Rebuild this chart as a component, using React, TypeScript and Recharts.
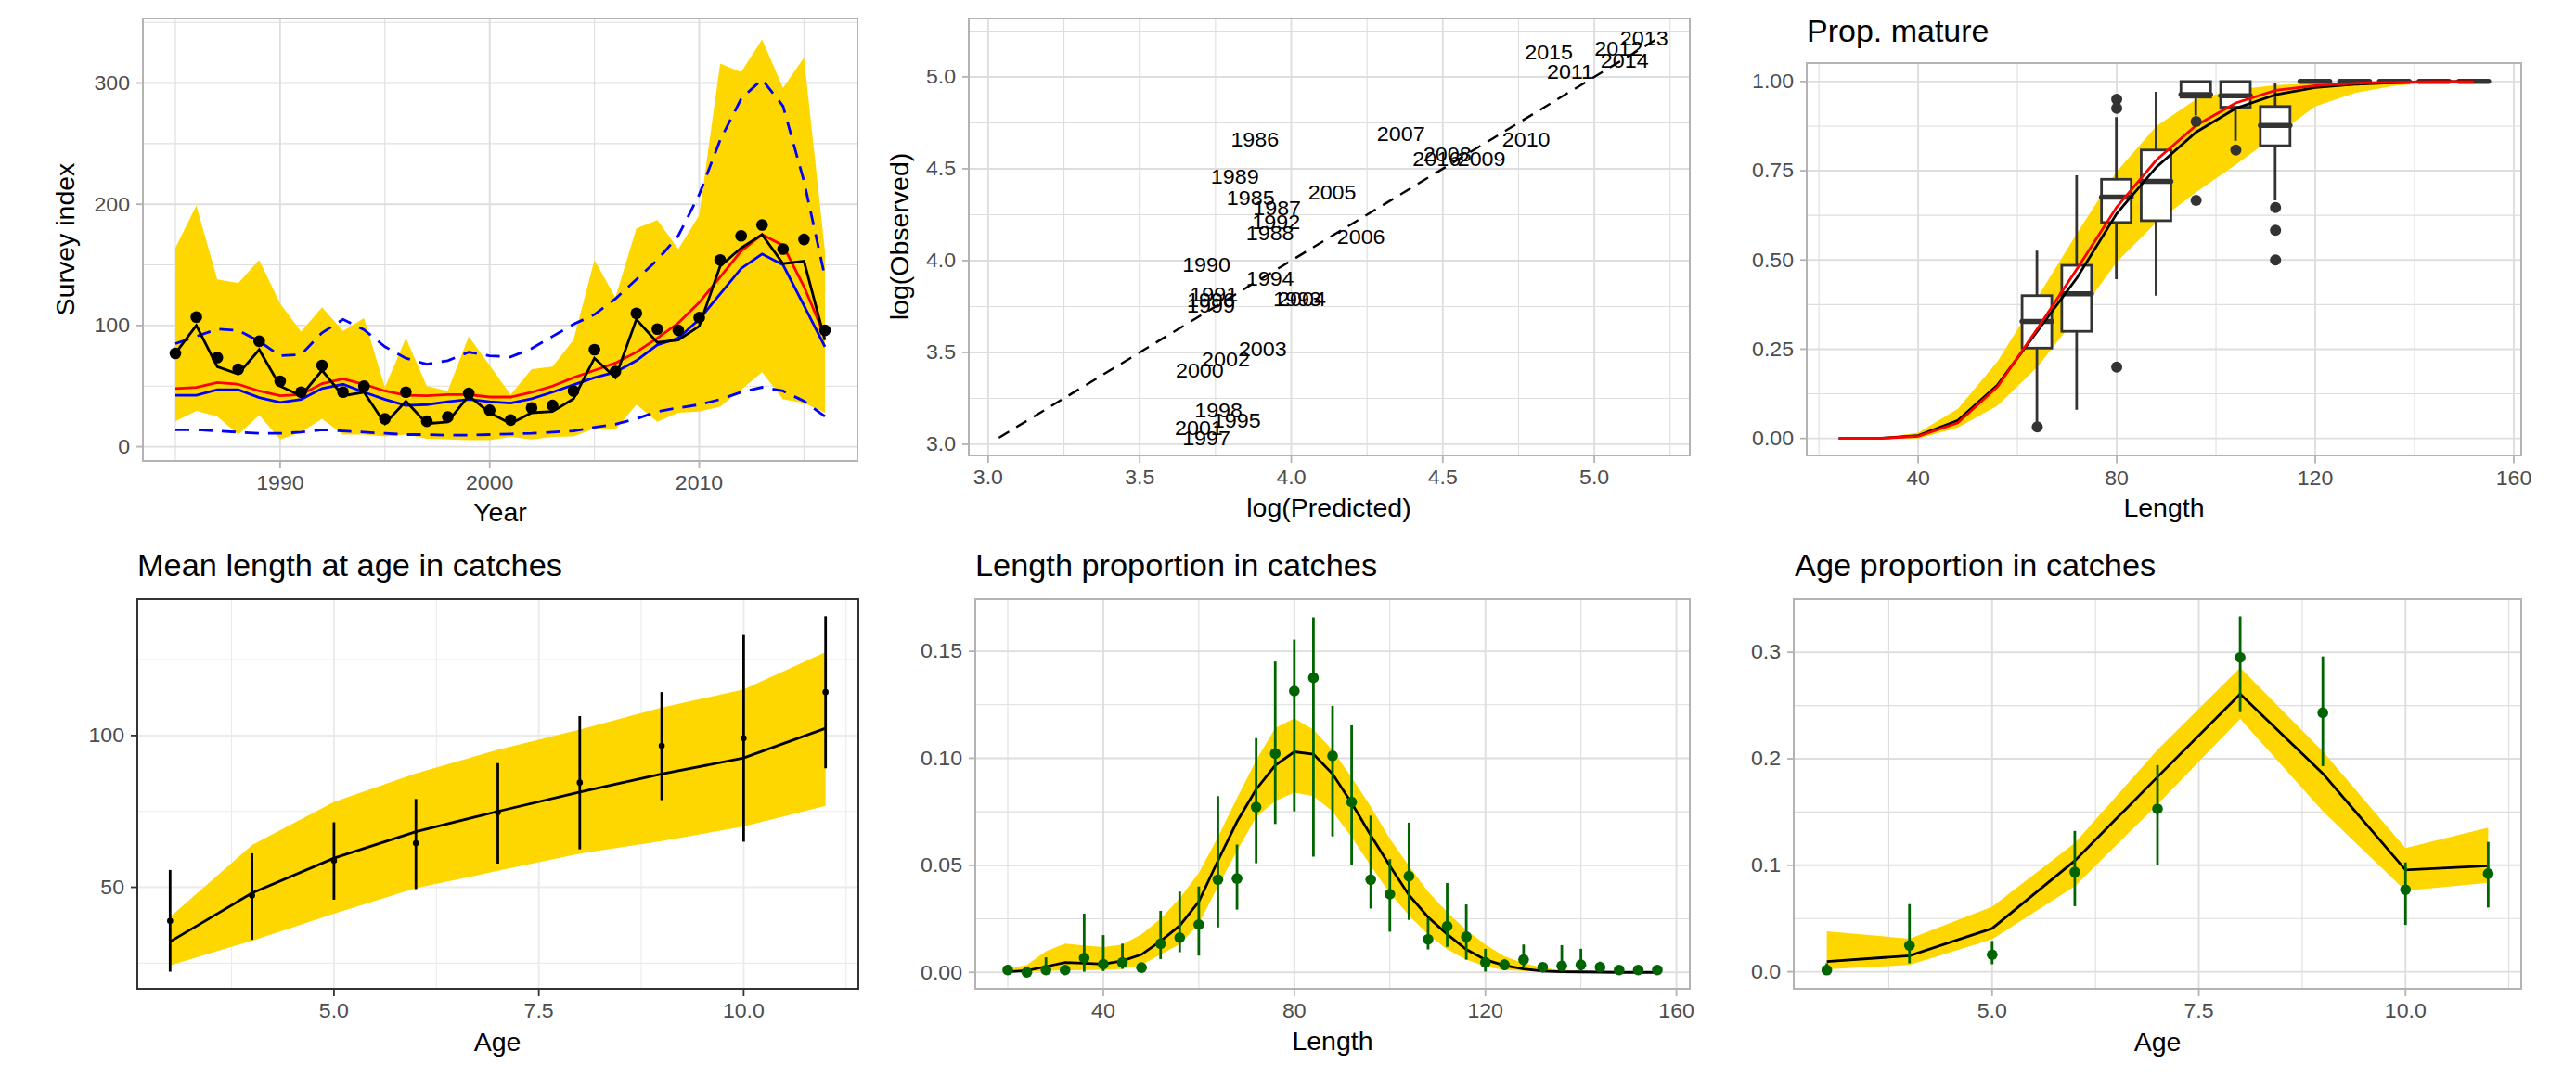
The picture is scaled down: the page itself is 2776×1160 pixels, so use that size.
import React from 'react';
import {
  ComposedChart,
  Line,
  Area,
  Bar,
  Scatter,
  XAxis,
  YAxis,
  CartesianGrid,
  ErrorBar,
  ReferenceLine,
} from 'recharts';

const FONT = '"Liberation Sans", Arial, Helvetica, sans-serif';
const SX = 1.05;
const GOLD = '#FFD700';
const DKGREEN = '#006400';

// survey index
const surveyYears = [1985, 1986, 1987, 1988, 1989, 1990, 1991, 1992, 1993, 1994, 1995, 1996, 1997, 1998, 1999, 2000, 2001, 2002, 2003, 2004, 2005, 2006, 2007, 2008, 2009, 2010, 2011, 2012, 2013, 2014, 2015, 2016];
const surveyObs = [77, 107, 73.5, 64, 87, 54, 45, 67, 45, 50, 23, 45, 21, 24.5, 44, 30, 22, 32, 34, 46, 80, 62, 110, 97, 96, 106.5, 154, 174, 183, 163, 171, 96];
const surveyFit = [77, 100, 66, 60, 80, 50, 42, 63, 42, 45, 19, 37.5, 19, 20.5, 42, 28, 19, 28, 29, 39.5, 73, 57, 105, 86, 88, 99.5, 149, 164, 175, 151, 153, 88];
const surveyRed = [48, 49, 53, 51.5, 46, 42, 43, 52, 56, 51.5, 46, 42.5, 42, 43, 43, 41, 41, 45, 50, 57, 63, 69, 78, 89.5, 102, 119, 140, 161.5, 175, 166, 132, 91];
const surveyBlue = [42.5, 42.5, 47, 47, 40.5, 36.5, 39, 48, 51.5, 45, 39, 34, 34.7, 37, 39, 37, 36, 39.5, 45, 51, 57, 61.5, 71, 84, 89.5, 105, 126, 147, 159, 150, 116.5, 82.5];
const surveyHi = [85, 91, 97, 96, 87, 75, 76, 94, 105, 96.5, 82.5, 73, 68, 71, 78, 75, 74, 81, 91, 101, 109, 122, 138, 154, 174, 208, 253, 287, 303, 281, 219, 140];
const surveyLo = [14, 14, 13, 12, 11, 11, 12, 14, 13, 12, 11, 10, 10, 9.5, 9.5, 10, 10.5, 11, 12, 13, 16, 18.5, 23, 29, 32, 34.7, 39, 45, 49, 46, 37.5, 25];
const surveyBandHi = [164, 199, 138, 135, 154, 118, 95, 115, 95.5, 106, 49, 89.5, 50, 46, 91, 67, 43, 64, 66, 88, 154, 123, 180, 187, 163, 191, 316, 309, 336, 296, 321, 161.5];
const surveyBandLo = [21, 29.6, 25, 10, 26, 6, 12, 23, 10, 10, 8.5, 10, 6.5, 6, 5.5, 5.5, 8, 6, 8, 8.5, 15, 14, 34.7, 20.5, 28, 29, 33, 47, 61.5, 39, 36, 28];

// log observed vs log predicted
const fitLabels = ['1985', '1986', '1987', '1988', '1989', '1990', '1991', '1992', '1993', '1994', '1995', '1996', '1997', '1998', '1999', '2000', '2001', '2002', '2003', '2004', '2005', '2006', '2007', '2008', '2009', '2010', '2011', '2012', '2013', '2014', '2015', '2016'];
const fitPred = [3.866, 3.88, 3.953, 3.93, 3.814, 3.72, 3.745, 3.95, 4.02, 3.93, 3.82, 3.735, 3.72, 3.76, 3.735, 3.698, 3.695, 3.784, 3.906, 4.035, 4.135, 4.23, 4.362, 4.515, 4.628, 4.775, 4.92, 5.08, 5.164, 5.1, 4.85, 4.48];
const fitObs = [4.34, 4.66, 4.285, 4.15, 4.458, 3.98, 3.816, 4.21, 3.79, 3.905, 3.13, 3.785, 3.035, 3.185, 3.755, 3.4, 3.09, 3.465, 3.52, 3.79, 4.37, 4.13, 4.69, 4.58, 4.553, 4.66, 5.028, 5.156, 5.21, 5.09, 5.134, 4.553];

// maturity
const matLen = [24, 32, 40, 48, 56, 64, 72, 80, 88, 96, 104, 112, 120, 128, 136, 144, 152];
const matFit = [0, 0, 0.008, 0.05, 0.15, 0.3, 0.45, 0.63, 0.76, 0.858, 0.925, 0.963, 0.983, 0.992, 0.997, 1, 1];
const matRed = [0, 0, 0.006, 0.044, 0.145, 0.307, 0.475, 0.648, 0.78, 0.877, 0.94, 0.975, 0.988, 0.995, 0.998, 1, 1];
const matBandHi = [0, 0.001, 0.016, 0.083, 0.216, 0.394, 0.575, 0.748, 0.875, 0.95, 0.977, 0.99, 0.995, 0.998, 1, 1, 1];
const matBandLo = [0, 0, 0, 0.03, 0.092, 0.2, 0.34, 0.494, 0.605, 0.69, 0.767, 0.849, 0.93, 0.968, 0.988, 0.997, 1];
const boxLen = [64, 72, 80, 88, 96, 104, 112, 120, 128, 136, 144, 152];
const boxLo = [0.045, 0.08, 0.446, 0.4, 0.905, 0.834, 0.667, 1, 1, 1, 1, 1];
const boxQ1 = [0.253, 0.3, 0.605, 0.61, 0.956, 0.928, 0.82, 1, 1, 1, 1, 1];
const boxMed = [0.328, 0.405, 0.676, 0.72, 0.963, 0.96, 0.877, 1, 1, 1, 1, 1];
const boxQ3 = [0.4, 0.485, 0.726, 0.808, 1, 1, 0.93, 1, 1, 1, 1, 1];
const boxHi = [0.526, 0.737, 0.9, 0.971, 1, 1, 0.997, 1, 1, 1, 1, 1];
const outlierLen = [64, 80, 80, 80, 96, 96, 104, 112, 112, 112];
const outlierVal = [0.032, 0.95, 0.925, 0.2, 0.888, 0.667, 0.808, 0.647, 0.583, 0.5];

// mean length at age
const ages = [3, 4, 5, 6, 7, 8, 9, 10, 11];
const mlObs = [38.9, 47.3, 58.8, 64.5, 74.7, 84.5, 96.6, 99.1, 114.3];
const mlFit = [32.1, 48.1, 59.6, 68.3, 75.0, 81.4, 87.3, 92.6, 102.4];
const mlBandHi = [40.2, 63.9, 78.1, 87.5, 95.3, 102, 109.2, 115.2, 127.5];
const mlBandLo = [24.3, 32.4, 41.3, 49.7, 55.4, 61.1, 65.2, 70.0, 76.8];
const mlErrHi = [55.7, 61.2, 71.4, 79.1, 90.9, 106.4, 114.3, 133.1, 139.3];
const mlErrLo = [22.2, 32.7, 45.9, 49.4, 57.8, 62.5, 78.7, 65.0, 89.2];

// length proportions
const lpLen = [20, 24, 28, 32, 36, 40, 44, 48, 52, 56, 60, 64, 68, 72, 76, 80, 84, 88, 92, 96, 100, 104, 108, 112, 116, 120, 124, 128, 132, 136, 140, 144, 148, 152, 156];
const lpObs = [0.0011, 0, 0.0011, 0.0011, 0.0067, 0.0038, 0.0046, 0.0022, 0.0134, 0.0162, 0.0223, 0.0433, 0.0438, 0.0772, 0.1022, 0.1314, 0.1376, 0.1011, 0.0796, 0.0433, 0.0365, 0.0449, 0.0154, 0.0215, 0.0166, 0.0046, 0.0035, 0.0059, 0.0024, 0.003, 0.0035, 0.0024, 0.0011, 0.0011, 0.0011];
const lpErrHi = [0.0035, 0.001, 0.007, 0.003, 0.0274, 0.0174, 0.0134, 0.004, 0.0287, 0.0377, 0.0401, 0.0823, 0.0597, 0.1094, 0.1452, 0.1554, 0.1659, 0.1245, 0.1154, 0.0732, 0.0529, 0.0699, 0.0253, 0.0417, 0.0317, 0.011, 0.006, 0.013, 0.0035, 0.0127, 0.011, 0.005, 0.002, 0.002, 0.002];
const lpErrLo = [0, 0, 0, 0, 0.0003, 0.0006, 0.0016, 0.001, 0.0062, 0.0094, 0.0078, 0.021, 0.0293, 0.051, 0.0693, 0.0752, 0.0541, 0.0635, 0.0502, 0.0298, 0.019, 0.0245, 0.0107, 0.0119, 0.0059, 0.0003, 0.001, 0.0027, 0.001, 0.001, 0.001, 0.0006, 0.0005, 0.0005, 0.0005];
const lpFit = [0.0003, 0.0008, 0.0027, 0.0046, 0.0043, 0.0038, 0.0054, 0.0083, 0.0146, 0.0218, 0.033, 0.0521, 0.0704, 0.0855, 0.0967, 0.103, 0.1019, 0.0927, 0.0791, 0.064, 0.0497, 0.0361, 0.0258, 0.0178, 0.0107, 0.0059, 0.0032, 0.0016, 0.0006, 0.0003, 0.0002, 0.0001, 0, 0, 0];
const lpBandHi = [0.0016, 0.0035, 0.0099, 0.0134, 0.0126, 0.0118, 0.013, 0.0178, 0.025, 0.0346, 0.0465, 0.0632, 0.0815, 0.099, 0.1142, 0.1186, 0.1134, 0.1038, 0.0911, 0.0775, 0.0624, 0.0497, 0.0377, 0.0282, 0.0197, 0.013, 0.0075, 0.0043, 0.0022, 0.001, 0.0005, 0.0002, 0.0001, 0, 0];
const lpBandLo = [0, 0.0003, 0.0006, 0.001, 0.0011, 0.0011, 0.0016, 0.0035, 0.0083, 0.0131, 0.0226, 0.0401, 0.0568, 0.0725, 0.08, 0.0839, 0.0823, 0.0752, 0.0632, 0.0497, 0.0369, 0.0266, 0.0178, 0.0107, 0.0059, 0.0027, 0.0011, 0.0006, 0.0003, 0.0001, 0, 0, 0, 0, 0];

// age proportions
const apObs = [0.0016, 0.0247, 0.016, 0.0937, 0.153, 0.2952, 0.2432, 0.077, 0.0921];
const apErrHi = [0.008, 0.0635, 0.0289, 0.1322, 0.194, 0.3337, 0.2961, 0.1027, 0.1219];
const apErrLo = [0, 0.008, 0.0071, 0.0616, 0.1, 0.2438, 0.1931, 0.044, 0.0603];
const apFit = [0.0096, 0.0151, 0.0407, 0.1043, 0.1829, 0.2608, 0.1861, 0.0956, 0.0995];
const apBandHi = [0.0379, 0.0311, 0.061, 0.121, 0.2085, 0.2855, 0.2069, 0.1161, 0.1354];
const apBandLo = [0.0022, 0.0064, 0.0305, 0.0802, 0.1572, 0.2374, 0.1508, 0.076, 0.0834];

const surveyData = surveyYears.map((year, i) => ({
  year,
  obs: surveyObs[i],
  fit: surveyFit[i],
  red: surveyRed[i],
  blue: surveyBlue[i],
  hi: surveyHi[i],
  lo: surveyLo[i],
  band: [surveyBandLo[i], surveyBandHi[i]],
}));

const fitData = fitLabels.map((label, i) => ({ label, pred: fitPred[i], obs: fitObs[i] }));
const fitMin = Math.min(...fitObs, ...fitPred);
const fitMax = Math.max(...fitObs, ...fitPred);

const matData = matLen.map((len, i) => {
  const j = boxLen.indexOf(len);
  return {
    len,
    fit: matFit[i],
    red: matRed[i],
    band: [matBandLo[i], matBandHi[i]],
    box: j >= 0 ? { lo: boxLo[j], q1: boxQ1[j], med: boxMed[j], q3: boxQ3[j], hi: boxHi[j] } : null,
  };
});
const outliers = outlierLen.map((len, i) => ({ len, v: outlierVal[i] }));

const mlData = ages.map((age, i) => ({
  age,
  obs: mlObs[i],
  fit: mlFit[i],
  band: [mlBandLo[i], mlBandHi[i]],
  err: [mlObs[i] - mlErrLo[i], mlErrHi[i] - mlObs[i]],
}));

const lpData = lpLen.map((len, i) => ({
  len,
  obs: lpObs[i],
  fit: lpFit[i],
  band: [lpBandLo[i], lpBandHi[i]],
  err: [lpObs[i] - lpErrLo[i], lpErrHi[i] - lpObs[i]],
}));

const apData = ages.map((age, i) => ({
  age,
  obs: apObs[i],
  fit: apFit[i],
  band: [apBandLo[i], apBandHi[i]],
  err: [apObs[i] - apErrLo[i], apErrHi[i] - apObs[i]],
}));

const f0 = (v: number) => String(v);
const f1 = (v: number) => v.toFixed(1);
const f2 = (v: number) => v.toFixed(2);

function XTick(p: any) {
  return (
    <g transform={`translate(${p.x},${p.y})`}>
      <text x={0} y={16} transform={`scale(${SX},1)`} textAnchor="middle" dominantBaseline="central" fontSize={22} fill="#4D4D4D" fontFamily={FONT}>
        {p.fmt(p.payload.value)}
      </text>
    </g>
  );
}

function YTick(p: any) {
  return (
    <g transform={`translate(${p.x},${p.y})`}>
      <text x={0} y={0} transform={`scale(${SX},1)`} textAnchor="end" dominantBaseline="central" fontSize={22} fill="#4D4D4D" fontFamily={FONT}>
        {p.fmt(p.payload.value)}
      </text>
    </g>
  );
}

const dotShape = (r: number, fill: string) => (p: any) => <circle cx={p.cx} cy={p.cy} r={r} fill={fill} />;

function BoxShape(p: any) {
  const b = p.payload && p.payload.box;
  if (!b) return <g />;
  const { x, y, width, height } = p;
  const pix = (v: number) => (b.hi === b.lo ? y : y + (height * (b.hi - v)) / (b.hi - b.lo));
  const cx = x + width / 2;
  const top = pix(b.q3);
  const bot = pix(b.q1);
  return (
    <g>
      <line x1={cx} x2={cx} y1={pix(b.hi)} y2={top} stroke="#333333" strokeWidth={2.8} />
      <line x1={cx} x2={cx} y1={bot} y2={pix(b.lo)} stroke="#333333" strokeWidth={2.8} />
      <rect x={x} y={top} width={width} height={Math.max(bot - top, 0)} fill="#FFFFFF" stroke="#333333" strokeWidth={2.8} />
      <line x1={x} x2={x + width} y1={pix(b.med)} y2={pix(b.med)} stroke="#333333" strokeWidth={5.5} strokeLinecap="round" />
    </g>
  );
}

function LabelShape(p: any) {
  return (
    <g transform={`translate(${p.cx},${p.cy})`}>
      <text x={0} y={0} transform="scale(1.06,1)" textAnchor="middle" dominantBaseline="central" fontSize={22} fill="#000000" fontFamily={FONT}>
        {p.payload.label}
      </text>
    </g>
  );
}

const PL = 110;
const PT = 12;
const PR = 30;
const PB = 50;

interface PanelProps {
  rect: number[];
  data: any[];
  xKey: string;
  xDomain: number[];
  yDomain: number[];
  xTicks: number[];
  yTicks: number[];
  xMinor: number[];
  yMinor: number[];
  xFmt: (v: number) => string;
  yFmt: (v: number) => string;
  bw?: boolean;
  children: React.ReactNode;
}

function Panel({ rect, data, xKey, xDomain, yDomain, xTicks, yTicks, xMinor, yMinor, xFmt, yFmt, bw, children }: PanelProps) {
  const [x0, y0, x1, y1] = rect;
  const w = x1 - x0 + PL + PR;
  const h = y1 - y0 + PT + PB;
  const grid = bw ? '#EBEBEB' : '#DEDEDE';
  const tickCol = bw ? '#333333' : '#B3B3B3';
  const bWidth = bw ? 2.2 : 2.6;
  return (
    <>
      <div style={{ position: 'absolute', left: x0 - PL, top: y0 - PT }}>
        <ComposedChart width={w} height={h} data={data} margin={{ top: PT, right: PR, bottom: 0, left: 0 }}>
          <CartesianGrid stroke={grid} strokeWidth={1.1} horizontalValues={yMinor} verticalValues={xMinor} />
          <CartesianGrid stroke={grid} strokeWidth={1.9} horizontalValues={yTicks} verticalValues={xTicks} />
          <XAxis
            type="number"
            dataKey={xKey}
            domain={xDomain}
            ticks={xTicks}
            interval={0}
            allowDataOverflow
            height={PB}
            axisLine={false}
            tickSize={8}
            tickMargin={0}
            tickLine={{ stroke: tickCol, strokeWidth: 1.8 }}
            tick={(p: any) => <XTick {...p} fmt={xFmt} />}
          />
          <YAxis
            type="number"
            domain={yDomain}
            ticks={yTicks}
            interval={0}
            allowDataOverflow
            width={PL}
            axisLine={false}
            tickSize={7}
            tickMargin={7}
            tickLine={{ stroke: tickCol, strokeWidth: 1.8 }}
            tick={(p: any) => <YTick {...p} fmt={yFmt} />}
          />
          {children}
        </ComposedChart>
      </div>
      <div
        style={{
          position: 'absolute',
          left: x0 - bWidth / 2,
          top: y0 - bWidth / 2,
          width: x1 - x0 + bWidth,
          height: y1 - y0 + bWidth,
          border: `${bWidth}px solid ${tickCol}`,
          boxSizing: 'border-box',
          pointerEvents: 'none',
        }}
      />
    </>
  );
}

function HText({ left, baseline, size, center, scale, children }: any) {
  return (
    <div
      style={{
        position: 'absolute',
        left,
        top: baseline - 0.8465 * size,
        fontSize: size,
        lineHeight: `${size}px`,
        whiteSpace: 'nowrap',
        fontFamily: FONT,
        color: '#000000',
        transform: center ? `translateX(-50%) scaleX(${scale})` : `scaleX(${scale})`,
        transformOrigin: center ? '50% 50%' : '0 50%',
      }}
    >
      {children}
    </div>
  );
}

function VText({ cx, cy, size, children }: any) {
  return (
    <div
      style={{
        position: 'absolute',
        left: cx,
        top: cy,
        fontSize: size,
        lineHeight: `${size}px`,
        whiteSpace: 'nowrap',
        fontFamily: FONT,
        color: '#000000',
        transform: 'translate(-50%, -50%) rotate(-90deg)',
      }}
    >
      {children}
    </div>
  );
}

export default function App() {
  return (
    <div style={{ position: 'absolute', left: 0, top: 0, width: 2776, height: 1160, background: '#FFFFFF', fontFamily: FONT }}>
      {/* Survey index */}
      <Panel
        rect={[154, 20, 924, 497]}
        data={surveyData}
        xKey="year"
        xDomain={[1983.45, 2017.55]}
        yDomain={[-11.8, 353.2]}
        xTicks={[1990, 2000, 2010]}
        yTicks={[0, 100, 200, 300]}
        xMinor={[1985, 1995, 2005, 2015]}
        yMinor={[50, 150, 250, 350]}
        xFmt={f0}
        yFmt={f0}
      >
        <Area dataKey="band" fill={GOLD} fillOpacity={1} stroke="none" isAnimationActive={false} />
        <Line dataKey="hi" stroke="#0000FF" strokeWidth={2.8} strokeDasharray="15 10" dot={false} activeDot={false} isAnimationActive={false} />
        <Line dataKey="lo" stroke="#0000FF" strokeWidth={2.8} strokeDasharray="15 10" dot={false} activeDot={false} isAnimationActive={false} />
        <Line dataKey="blue" stroke="#0000FF" strokeWidth={2.8} dot={false} activeDot={false} isAnimationActive={false} />
        <Line dataKey="red" stroke="#FF0000" strokeWidth={2.8} dot={false} activeDot={false} isAnimationActive={false} />
        <Line dataKey="fit" stroke="#000000" strokeWidth={2.8} dot={false} activeDot={false} isAnimationActive={false} />
        <Scatter dataKey="obs" shape={dotShape(6.3, '#000000')} isAnimationActive={false} />
      </Panel>

      {/* log obs vs log pred */}
      <Panel
        rect={[1044, 20, 1821, 491]}
        data={fitData}
        xKey="pred"
        xDomain={[2.936, 5.315]}
        yDomain={[2.939, 5.318]}
        xTicks={[3, 3.5, 4, 4.5, 5]}
        yTicks={[3, 3.5, 4, 4.5, 5]}
        xMinor={[3.25, 3.75, 4.25, 4.75, 5.25]}
        yMinor={[3.25, 3.75, 4.25, 4.75, 5.25]}
        xFmt={f1}
        yFmt={f1}
      >
        <ReferenceLine
          segment={[{ x: fitMin, y: fitMin }, { x: fitMax, y: fitMax }]}
          stroke="#000000"
          strokeWidth={2.4}
          strokeDasharray="13 9"
        />
        <Scatter dataKey="obs" shape={LabelShape} isAnimationActive={false} />
      </Panel>

      {/* Prop. mature */}
      <Panel
        rect={[1947, 68.5, 2717, 491]}
        data={matData}
        xKey="len"
        xDomain={[17.55, 161.5]}
        yDomain={[-0.049, 1.049]}
        xTicks={[40, 80, 120, 160]}
        yTicks={[0, 0.25, 0.5, 0.75, 1]}
        xMinor={[20, 60, 100, 140]}
        yMinor={[0.125, 0.375, 0.625, 0.875]}
        xFmt={f0}
        yFmt={f2}
      >
        <Area dataKey="band" fill={GOLD} fillOpacity={1} stroke="none" isAnimationActive={false} />
        <Bar dataKey={(d: any) => (d.box ? [d.box.lo, d.box.hi] : null)} barSize={32} shape={BoxShape} isAnimationActive={false} />
        <Scatter data={outliers} dataKey="v" shape={dotShape(6, '#333333')} isAnimationActive={false} />
        <Line dataKey="fit" stroke="#000000" strokeWidth={2.8} dot={false} activeDot={false} isAnimationActive={false} />
        <Line dataKey="red" stroke="#FF0000" strokeWidth={2.8} dot={false} activeDot={false} isAnimationActive={false} />
      </Panel>

      {/* Mean length at age */}
      <Panel
        rect={[148, 646, 925, 1066]}
        data={mlData}
        xKey="age"
        xDomain={[2.6, 11.4]}
        yDomain={[16.55, 144.9]}
        xTicks={[5, 7.5, 10]}
        yTicks={[50, 100]}
        xMinor={[3.75, 6.25, 8.75, 11.25]}
        yMinor={[25, 75, 125]}
        xFmt={f1}
        yFmt={f0}
        bw
      >
        <Area dataKey="band" fill={GOLD} fillOpacity={1} stroke="none" isAnimationActive={false} />
        <Line dataKey="fit" stroke="#000000" strokeWidth={2.8} dot={false} activeDot={false} isAnimationActive={false} />
        <Scatter dataKey="obs" shape={dotShape(3.3, '#000000')} isAnimationActive={false}>
          <ErrorBar dataKey="err" direction="y" width={0} stroke="#000000" strokeWidth={2.8} />
        </Scatter>
      </Panel>

      {/* Length proportion */}
      <Panel
        rect={[1051, 646, 1821, 1066]}
        data={lpData}
        xKey="len"
        xDomain={[13.2, 162.8]}
        yDomain={[-0.0077, 0.1743]}
        xTicks={[40, 80, 120, 160]}
        yTicks={[0, 0.05, 0.1, 0.15]}
        xMinor={[20, 60, 100, 140]}
        yMinor={[0.025, 0.075, 0.125]}
        xFmt={f0}
        yFmt={f2}
      >
        <Area dataKey="band" fill={GOLD} fillOpacity={1} stroke="none" isAnimationActive={false} />
        <Line dataKey="fit" stroke="#000000" strokeWidth={2.8} dot={false} activeDot={false} isAnimationActive={false} />
        <Scatter dataKey="obs" shape={dotShape(5.8, DKGREEN)} isAnimationActive={false}>
          <ErrorBar dataKey="err" direction="y" width={0} stroke={DKGREEN} strokeWidth={2.8} />
        </Scatter>
      </Panel>

      {/* Age proportion */}
      <Panel
        rect={[1933, 646, 2717, 1066]}
        data={apData}
        xKey="age"
        xDomain={[2.6, 11.4]}
        yDomain={[-0.016, 0.3498]}
        xTicks={[5, 7.5, 10]}
        yTicks={[0, 0.1, 0.2, 0.3]}
        xMinor={[3.75, 6.25, 8.75, 11.25]}
        yMinor={[0.05, 0.15, 0.25]}
        xFmt={f1}
        yFmt={f1}
      >
        <Area dataKey="band" fill={GOLD} fillOpacity={1} stroke="none" isAnimationActive={false} />
        <Line dataKey="fit" stroke="#000000" strokeWidth={2.8} dot={false} activeDot={false} isAnimationActive={false} />
        <Scatter dataKey="obs" shape={dotShape(5.8, DKGREEN)} isAnimationActive={false}>
          <ErrorBar dataKey="err" direction="y" width={0} stroke={DKGREEN} strokeWidth={2.8} />
        </Scatter>
      </Panel>

      {/* titles */}
      <HText left={1947} baseline={45} size={33} scale={1.03}>Prop. mature</HText>
      <HText left={148} baseline={621} size={33} scale={1.04}>Mean length at age in catches</HText>
      <HText left={1051} baseline={621} size={33} scale={1.04}>Length proportion in catches</HText>
      <HText left={1934} baseline={621} size={33} scale={1.04}>Age proportion in catches</HText>

      {/* axis titles */}
      <HText left={539} baseline={562} size={28.5} scale={1} center>Year</HText>
      <HText left={1432} baseline={557} size={28.5} scale={1} center>log(Predicted)</HText>
      <HText left={2332} baseline={557} size={28.5} scale={1} center>Length</HText>
      <HText left={536} baseline={1133} size={28.5} scale={1} center>Age</HText>
      <HText left={1436} baseline={1132} size={28.5} scale={1} center>Length</HText>
      <HText left={2325} baseline={1133} size={28.5} scale={1} center>Age</HText>
      <VText cx={70} cy={258} size={28.5}>Survey index</VText>
      <VText cx={969} cy={255} size={28.5}>log(Observed)</VText>
    </div>
  );
}
